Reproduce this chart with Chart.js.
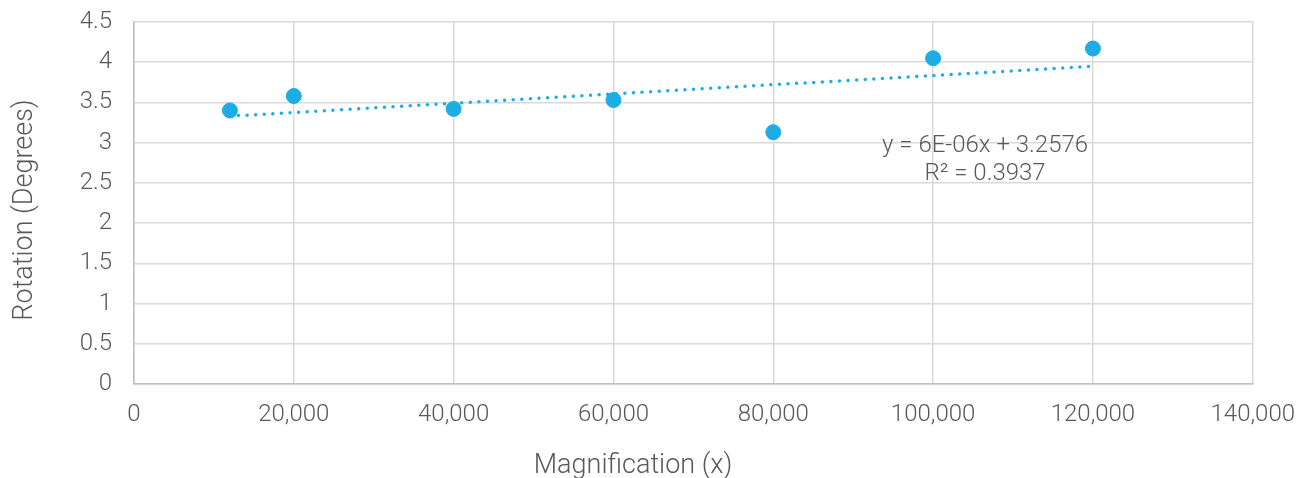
<!DOCTYPE html>
<html>
<head>
<meta charset="utf-8">
<script src="https://cdn.jsdelivr.net/npm/chart.js@4/dist/chart.umd.min.js"></script>
<style>
    html, body { margin: 0; padding: 0; background: #fff; }
    #wrap { width: 1312px; height: 478px; position: relative; }
</style>
</head>
<body>
<div id="wrap"><canvas id="rot-chart"></canvas></div>
<script>
// ── 資料 ──
const magnification = [12000, 20000, 40000, 60000, 80000, 100000, 120000];
const rotation      = [3.40, 3.58, 3.42, 3.53, 3.13, 4.05, 4.17];

// trendline endpoints
const trendX = [12000, 120000];
const trendY = [3.33, 3.95];

const equationLines = ['y = 6E-06x + 3.2576', 'R² = 0.3937'];
const equationAt    = { x: 106500, y: 2.96 };   // centre of the first line, data units

const xTitle = 'Magnification (x)';
const yTitle = 'Rotation (Degrees)';

const BLUE   = '#1cade4';
const TEXT   = '#595959';
const GRID   = '#d9d9d9';
const AXIS   = '#bfbfbf';
const FAMILY = 'Roboto, "Noto Sans", sans-serif';
const FONT   = { family: FAMILY, size: 24, weight: 300 };
const TITLE_FONT = `300 27px ${FAMILY}`;

// ── 軸標題與方程式 ──
const labels = {
    id: 'labels',
    afterDraw(chart) {
        const { ctx, scales: { x, y } } = chart;
        ctx.save();
        ctx.fillStyle = TEXT;
        ctx.textAlign = 'center';
        ctx.textBaseline = 'middle';

        // trendline equation
        ctx.font = `${FONT.weight} ${FONT.size}px ${FONT.family}`;
        const cx = x.getPixelForValue(equationAt.x);
        const cy = y.getPixelForValue(equationAt.y);
        equationLines.forEach((line, i) => ctx.fillText(line, cx, cy + i * 28));

        // axis titles
        ctx.font = TITLE_FONT;
        ctx.fillText(xTitle, 633, 466);
        ctx.translate(25, 210);
        ctx.rotate(-Math.PI / 2);
        ctx.fillText(yTitle, 0, 0);
        ctx.restore();
    }
};

new Chart(document.getElementById('rot-chart').getContext('2d'), {
    type: 'scatter',
    data: {
        datasets: [
            {
                label: 'Rotation',
                data: magnification.map((m, i) => ({ x: m, y: rotation[i] })),
                backgroundColor: BLUE,
                borderColor: BLUE,
                pointRadius: 7.5,
                pointHoverRadius: 7.5,
                order: 1
            },
            {
                label: 'Linear trend',
                type: 'line',
                data: trendX.map((m, i) => ({ x: m, y: trendY[i] })),
                borderColor: BLUE,
                borderWidth: 3.5,
                borderDash: [0, 8.6],
                borderCapStyle: 'round',
                pointRadius: 0,
                fill: false,
                order: 2
            }
        ]
    },
    options: {
        responsive: true,
        maintainAspectRatio: false,
        animation: false,
        layout: { padding: { top: 22, right: 58, left: 0, bottom: 0 } },
        plugins: {
            legend: { display: false },
            tooltip: { enabled: false }
        },
        scales: {
            x: {
                type: 'linear',
                min: 0,
                max: 140000,
                afterFit: s => { s.height = 94; },
                ticks: {
                    stepSize: 20000,
                    padding: 17,
                    color: TEXT,
                    font: FONT,
                    maxRotation: 0,
                    callback: v => Number(v).toLocaleString('en-US')
                },
                grid: { color: GRID, lineWidth: 1.5, drawTicks: false },
                border: { color: AXIS, width: 1.5 }
            },
            y: {
                min: 0,
                max: 4.5,
                afterFit: s => { s.width = 134; s.paddingTop = 0; s.paddingBottom = 0; },
                ticks: {
                    stepSize: 0.5,
                    padding: 22,
                    color: TEXT,
                    font: FONT,
                    callback: v => String(+Number(v).toFixed(1))
                },
                grid: { color: GRID, lineWidth: 1.5, drawTicks: false },
                border: { color: AXIS, width: 1.5 }
            }
        }
    },
    plugins: [labels]
});
</script>
</body>
</html>
